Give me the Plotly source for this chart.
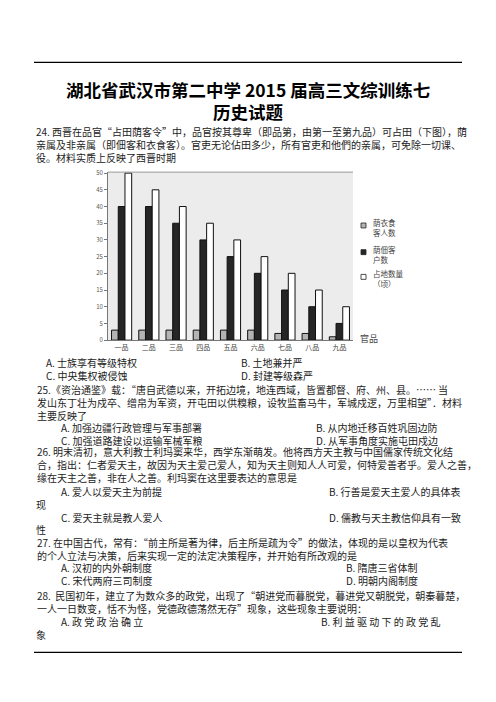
import plotly.graph_objects as go

# the page body has an 8px margin, so the figure is a bit smaller than the window
OFF = 8
W, H = 496 - 2 * OFF, 702 - 2 * OFF

# chart data
grades = ["一品", "二品", "三品", "四品", "五品", "六品", "七品", "八品", "九品"]
food_guests = [3, 3, 3, 3, 3, 3, 2, 2, 1]                 # 荫衣食客人数
tenant_households = [40, 40, 35, 30, 25, 20, 15, 10, 5]    # 荫佃客户数
land_qing = [50, 45, 40, 35, 30, 25, 20, 15, 10]          # 占地数量（顷）
y_ticks = [0, 5, 10, 15, 20, 25, 30, 35, 40, 45, 50]

series_names = ["荫衣食<br>客人数", "荫佃客<br>户数", "占地数量<br>（顷）"]
series_colors = ["#b4b4b4", "#262626", "#ffffff"]


def px(x):
    return (x - OFF) / W


def py(y):
    return 1 - (y - OFF) / H


fig = go.Figure()
for name, vals, col in zip(series_names, [food_guests, tenant_households, land_qing], series_colors):
    fig.add_trace(go.Bar(
        x=grades, y=vals, name=name, showlegend=False,
        marker=dict(color=col, line=dict(color="#111111", width=1)),
    ))

fig.update_layout(
    width=W, height=H, autosize=False,
    margin=dict(l=0, r=0, t=0, b=0),
    paper_bgcolor="white",
    plot_bgcolor="#ececec",
    barmode="group", bargap=0.26, bargroupgap=0.0,
    font=dict(family="Noto Sans CJK SC", color="#333333"),
    xaxis=dict(domain=[px(108), px(353)], tickfont=dict(size=7, color="#444"),
               showgrid=False, showline=True, linecolor="#777", ticks=""),
    yaxis=dict(domain=[py(340), py(170)], range=[0, 50.3], tickvals=y_ticks,
               tickfont=dict(size=6, color="#555"), showgrid=False,
               showline=True, linecolor="#777", ticks="outside", ticklen=3,
               tickcolor="#777", zeroline=False),
)

# legend drawn by hand (swatch + two-line label) to sit where the scan has it
for (ly, name, col) in zip([224, 251, 276], series_names, series_colors):
    fig.add_shape(type="rect", xref="paper", yref="paper",
                  x0=px(361), x1=px(366), y0=py(ly + 2.5), y1=py(ly - 2.5),
                  fillcolor=col, line=dict(color="#222", width=0.8))
    fig.add_annotation(x=px(371), y=py(ly + 2), xref="paper", yref="paper", text=name,
                       showarrow=False, xanchor="left", yanchor="middle", align="left",
                       font=dict(size=7.5, color="#444"))

# horizontal rules of the page
fig.add_shape(type="line", xref="paper", yref="paper", x0=px(34), x1=px(462),
              y0=py(59), y1=py(59), line=dict(color="black", width=1.2))
fig.add_shape(type="line", xref="paper", yref="paper", x0=px(34), x1=px(462),
              y0=py(656), y1=py(656), line=dict(color="black", width=1.2))
# top border of the chart area
fig.add_shape(type="line", xref="paper", yref="paper", x0=px(108), x1=px(353),
              y0=py(170), y1=py(170), line=dict(color="#999", width=1))

# 官品 axis title
fig.add_annotation(x=px(358), y=py(338), xref="paper", yref="paper", text="官品",
                   showarrow=False, xanchor="left", yanchor="middle",
                   font=dict(size=9, color="#444"))

# titles
fig.add_annotation(x=px(248), y=py(86), xref="paper", yref="paper",
                   text="<b>湖北省武汉市第二中学 2015 届高三文综训练七</b>",
                   showarrow=False, yanchor="middle", font=dict(size=17.5, color="black"))
fig.add_annotation(x=px(248), y=py(109), xref="paper", yref="paper",
                   text="<b>历史试题</b>", showarrow=False, yanchor="middle",
                   font=dict(size=17.5, color="black"))

# blocks of text: (left x, centre y, lines)
body = [
    (35, 142, ["24. 西晋在品官“占田荫客令”中，品官按其尊卑（即品第，由第一至第九品）可占田（下图），荫",
               "亲属及非亲属（即佃客和衣食客）。官吏无论佔田多少，所有官吏和他們的亲属，可免除一切课、",
               "役。材料实质上反映了西晋时期"]),
    (45, 369.5, ["A. 士族享有等级特权", "C. 中央集权被侵蚀"]),
    (240, 369.5, ["B. 土地兼并严", "D. 封建等级森严"]),
    (36, 403, ["25.《资治通鉴》载：“唐自武德以来，开拓边境，地连西域，皆置都督、府、州、县。…… 当",
               "发山东丁壮为戍卒、缯帛为军资，开屯田以供糗粮，设牧监畜马牛，军城戍逻，万里相望”．材料",
               "主要反映了"]),
    (60, 434.5, ["A. 加强边疆行政管理与军事部署", "C. 加强道路建设以运输军械军粮"]),
    (315, 434.5, ["B. 从内地迁移百姓巩固边防", "D. 从军事角度实施屯田戍边"]),
    (36, 466, ["26. 明末清初，意大利教士利玛窦来华，西学东渐萌发。他将西方天主教与中国儒家传统文化结",
               "合，指出：仁者爱天主，故因为天主爱己爱人，知为天主则知人人可爱，何特爱善者乎。爱人之善，",
               "缘在天主之善，非在人之善。利玛窦在这里要表达的意思是"]),
    (60, 493, ["A. 爱人以爱天主为前提"]), (328, 493, ["B. 行善是爱天主爱人的具体表"]),
    (35, 506, ["现"]),
    (60, 519, ["C. 爱天主就是教人爱人"]), (328, 519, ["D. 儒教与天主教信仰具有一致"]),
    (35, 532, ["性"]),
    (36, 551, ["27. 在中国古代，常有：“前主所是著为律，后主所是疏为令”的做法，体现的是以皇权为代表",
               "的个人立法与决策，后来实现一定的法定决策程序，并开始有所改观的是"]),
    (60, 577, ["A. 汉初的内外朝制度", "C. 宋代两府三司制度"]),
    (345, 577, ["B. 隋唐三省体制", "D. 明朝内阁制度"]),
    (36, 605, ["28.  民国初年，建立了为数众多的政党，出现了“朝进党而暮脱党，暮进党又朝脱党，朝秦暮楚，",
               "一人一日数变，恬不为怪，党德政德荡然无存”现象，这些现象主要说明："]),
    (60, 624.5, ["A. 政 党 政 治 确 立"]), (320, 624.5, ["B. 利 益 驱 动 下 的 政 党 乱"]),
    (35, 638, ["象"]),
]
for x, y, lines in body:
    fig.add_annotation(x=px(x), y=py(y), xref="paper", yref="paper", text="<br>".join(lines),
                       showarrow=False, xanchor="left", yanchor="middle", align="left",
                       borderpad=0, font=dict(size=10, color="#222222"))

fig.write_html("out.html")
